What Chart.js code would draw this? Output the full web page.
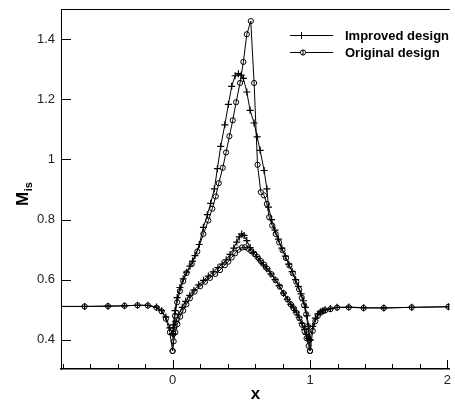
<!DOCTYPE html>
<html>
<head>
<meta charset="utf-8">
<script src="https://cdn.jsdelivr.net/npm/chart.js@4.4.0/dist/chart.umd.min.js"></script>
<style>
  html, body { margin: 0; padding: 0; background: #fff; }
</style>
</head>
<body>
<canvas id="mis" width="455" height="405"></canvas>
<script>
// upstream of the leading edge (x < 0)
const upX    = [-0.9, -0.64, -0.47, -0.35, -0.255, -0.18, -0.117, -0.08, -0.049, -0.02];
const upImp  = [0.511, 0.511, 0.512, 0.513, 0.515, 0.515, 0.509, 0.497, 0.476, 0.44];
const upOrig = [0.511, 0.511, 0.512, 0.513, 0.515, 0.514, 0.507, 0.495, 0.47, 0.425];

// suction side, improved design
const sucImpX = [0, 0.005, 0.017, 0.033, 0.053, 0.077, 0.102, 0.126, 0.145, 0.163, 0.194, 0.224, 0.253, 0.277,
  0.304, 0.326, 0.35, 0.38, 0.406, 0.43, 0.455, 0.479, 0.499, 0.515, 0.54, 0.564, 0.593, 0.615, 0.637, 0.666,
  0.686, 0.698, 0.72, 0.745, 0.77, 0.795, 0.82, 0.845, 0.87, 0.895, 0.915, 0.935, 0.952, 0.966, 0.978, 0.99, 1.0];
const sucImp = [0.42, 0.45, 0.497, 0.54, 0.574, 0.603, 0.625, 0.645, 0.662, 0.68, 0.717, 0.774, 0.816, 0.854,
  0.902, 0.969, 1.043, 1.115, 1.183, 1.243, 1.278, 1.285, 1.28, 1.269, 1.224, 1.163, 1.121, 1.075, 1.03, 0.963,
  0.902, 0.841, 0.8, 0.765, 0.735, 0.705, 0.678, 0.652, 0.627, 0.6, 0.578, 0.553, 0.53, 0.508, 0.48, 0.445, 0.40];

// suction side, original design
const sucOrigX = [0, 0.006, 0.017, 0.033, 0.053, 0.077, 0.102, 0.139, 0.18, 0.224, 0.26, 0.289, 0.314, 0.336,
  0.365, 0.389, 0.413, 0.438, 0.462, 0.491, 0.515, 0.54, 0.569, 0.593, 0.618, 0.642, 0.666, 0.686, 0.703, 0.725,
  0.75, 0.775, 0.8, 0.825, 0.85, 0.875, 0.9, 0.92, 0.94, 0.957, 0.972, 0.985, 0.995, 1.0];
const sucOrig = [0.363, 0.42, 0.48, 0.525, 0.562, 0.595, 0.622, 0.652, 0.694, 0.752, 0.797, 0.836, 0.877, 0.921,
  0.972, 1.023, 1.077, 1.13, 1.19, 1.254, 1.324, 1.416, 1.46, 1.254, 0.982, 0.891, 0.88, 0.852, 0.808, 0.78,
  0.752, 0.724, 0.698, 0.672, 0.647, 0.621, 0.593, 0.568, 0.54, 0.515, 0.485, 0.445, 0.40, 0.363];

// pressure side, improved design
const presImpX = [0, 0.01, 0.025, 0.045, 0.07, 0.095, 0.125, 0.155, 0.19, 0.225, 0.26, 0.295, 0.33, 0.36, 0.39,
  0.418, 0.445, 0.467, 0.485, 0.503, 0.52, 0.54, 0.564, 0.588, 0.612, 0.637, 0.662, 0.686, 0.715, 0.745, 0.775,
  0.807, 0.835, 0.86, 0.88, 0.9, 0.92, 0.942, 0.96, 0.975, 0.988, 1.0];
const presImp = [0.42, 0.44, 0.462, 0.485, 0.508, 0.528, 0.548, 0.565, 0.583, 0.598, 0.612, 0.626, 0.64, 0.652, 0.666,
  0.684, 0.705, 0.725, 0.742, 0.752, 0.747, 0.73, 0.707, 0.691, 0.677, 0.663, 0.649, 0.636, 0.619, 0.6, 0.58,
  0.555, 0.535, 0.518, 0.506, 0.492, 0.475, 0.455, 0.435, 0.418, 0.405, 0.40];

// pressure side, original design
const presOrigX = [0, 0.008, 0.02, 0.035, 0.055, 0.077, 0.1, 0.126, 0.16, 0.2, 0.236, 0.272, 0.31, 0.345, 0.38,
  0.405, 0.43, 0.455, 0.48, 0.505, 0.528, 0.55, 0.572, 0.595, 0.618, 0.642, 0.666, 0.69, 0.72, 0.75, 0.78,
  0.807, 0.835, 0.86, 0.88, 0.9, 0.922, 0.942, 0.96, 0.975, 0.99, 1.0];
const presOrig = [0.363, 0.395, 0.425, 0.452, 0.477, 0.497, 0.518, 0.538, 0.56, 0.578, 0.593, 0.606, 0.619, 0.632, 0.648,
  0.66, 0.674, 0.688, 0.7, 0.707, 0.708, 0.703, 0.695, 0.686, 0.675, 0.662, 0.65, 0.636, 0.618, 0.598, 0.577,
  0.555, 0.535, 0.518, 0.505, 0.49, 0.472, 0.45, 0.428, 0.405, 0.38, 0.363];

// downstream of the trailing edge
const wakeX    = [1.02, 1.039, 1.057, 1.075, 1.093, 1.11, 1.148, 1.197, 1.282, 1.39, 1.537, 1.74, 2.007];
const wakeImp  = [0.445, 0.472, 0.486, 0.493, 0.497, 0.5, 0.504, 0.508, 0.509, 0.507, 0.506, 0.508, 0.51];
const wakeOrig = [0.43, 0.462, 0.48, 0.49, 0.495, 0.498, 0.502, 0.507, 0.508, 0.506, 0.506, 0.508, 0.51];

const seriesNames = ['Improved design', 'Original design'];

const FONT = '"Liberation Sans", Arial, sans-serif';
Chart.defaults.font.family = FONT;

function pts(xs, ys) {
  return xs.map((x, i) => ({ x: x, y: ys[i] }));
}
// upstream -> suction side -> wake, a gap, then the pressure side
function loop(ux, uy, sx, sy, wx, wy, px, py) {
  return pts(ux, uy).concat(pts(sx, sy), pts(wx, wy), [{ x: 1, y: null }], pts(px, py));
}
const isInt = v => Math.abs(v - Math.round(v)) < 1e-6;

const frame = {
  id: 'frame',
  afterDraw(chart) {
    const { ctx, chartArea: a, scales: { x, y } } = chart;
    ctx.save();
    ctx.strokeStyle = '#000';
    ctx.lineWidth = 1;
    // top border
    ctx.beginPath();
    ctx.moveTo(a.left, a.top + 0.5);
    ctx.lineTo(a.right, a.top + 0.5);
    ctx.stroke();
    // inward tick marks
    ctx.beginPath();
    x.ticks.forEach(t => {
      const px = Math.round(x.getPixelForValue(t.value)) + 0.5;
      const len = isInt(t.value) ? 9 : 5;
      ctx.moveTo(px, a.bottom);
      ctx.lineTo(px, a.bottom - len);
    });
    y.ticks.forEach(t => {
      const py = Math.round(y.getPixelForValue(t.value)) + 0.5;
      ctx.moveTo(a.left, py);
      ctx.lineTo(a.left + 10, py);
    });
    ctx.stroke();

    // legend
    const rows = [35.5, 52.5];
    ctx.fillStyle = '#000';
    ctx.font = 'bold 13px ' + FONT;
    ctx.textBaseline = 'middle';
    rows.forEach((ly, i) => {
      ctx.beginPath();
      ctx.moveTo(290, ly);
      ctx.lineTo(333, ly);
      ctx.stroke();
      ctx.beginPath();
      if (i === 0) {
        ctx.moveTo(298, ly); ctx.lineTo(305, ly);
        ctx.moveTo(301.5, ly - 3.5); ctx.lineTo(301.5, ly + 3.5);
      } else {
        ctx.arc(303, ly, 2.6, 0, Math.PI * 2);
        ctx.fillStyle = '#fff';
        ctx.fill();
        ctx.fillStyle = '#000';
        ctx.moveTo(303, ly - 2.6); ctx.lineTo(303, ly + 2.6);
      }
      ctx.stroke();
      ctx.fillText(seriesNames[i], 345, ly + 0.5);
    });

    // y axis title with subscript
    ctx.translate(28, 206);
    ctx.rotate(-Math.PI / 2);
    ctx.textBaseline = 'alphabetic';
    ctx.font = 'bold 17px ' + FONT;
    ctx.fillText('M', 0, 0);
    const w = ctx.measureText('M').width;
    ctx.font = 'bold 11px ' + FONT;
    ctx.fillText('is', w + 0.5, 4);
    ctx.restore();
  }
};

new Chart(document.getElementById('mis'), {
  type: 'scatter',
  data: {
    datasets: [{
      label: seriesNames[0],
      data: loop(upX, upImp, sucImpX, sucImp, wakeX, wakeImp, presImpX, presImp),
      showLine: true,
      borderColor: '#000',
      borderWidth: 1,
      pointStyle: 'cross',
      pointRadius: 3.5,
      pointBorderWidth: 1.2,
      pointBorderColor: '#000'
    }, {
      label: seriesNames[1],
      data: loop(upX, upOrig, sucOrigX, sucOrig, wakeX, wakeOrig, presOrigX, presOrig),
      showLine: true,
      borderColor: '#000',
      borderWidth: 1,
      pointStyle: 'circle',
      pointRadius: 2.6,
      pointBorderWidth: 1,
      pointBorderColor: '#000',
      pointBackgroundColor: 'rgba(255,255,255,0)'
    }]
  },
  options: {
    responsive: false,
    animation: false,
    devicePixelRatio: 1,
    layout: { padding: { top: 9, right: 0, left: 0, bottom: 0 } },
    plugins: { legend: { display: false }, tooltip: { enabled: false } },
    scales: {
      x: {
        type: 'linear',
        min: -0.812,
        max: 2.017,
        afterFit: s => { s.height = 36; s.paddingLeft = 0; s.paddingRight = 0; },
        grid: { display: false, drawTicks: false },
        border: { color: '#000', width: 1.5 },
        ticks: {
          stepSize: 0.2,
          includeBounds: false,
          autoSkip: false,
          maxRotation: 0,
          padding: 4,
          color: '#222',
          font: { size: 13 },
          callback: v => isInt(v) ? String(Math.round(v)) : ''
        },
        title: {
          display: true,
          text: 'x',
          color: '#000',
          font: { size: 17, weight: 'bold' },
          padding: { top: 0, bottom: 0 }
        }
      },
      y: {
        type: 'linear',
        min: 0.303,
        max: 1.5,
        afterFit: s => { s.width = 61; s.paddingTop = 0; s.paddingBottom = 0; },
        grid: { display: false, drawTicks: false },
        border: { color: '#000', width: 1 },
        ticks: {
          stepSize: 0.2,
          includeBounds: false,
          padding: 6,
          color: '#222',
          font: { size: 13 },
          callback: v => String(+v.toFixed(2))
        }
      }
    }
  },
  plugins: [frame]
});
</script>
</body>
</html>
